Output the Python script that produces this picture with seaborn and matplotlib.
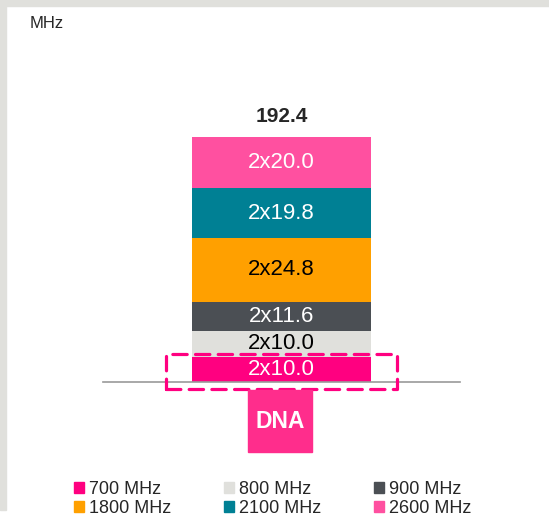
import matplotlib
matplotlib.use("Agg")
import matplotlib.pyplot as plt
import matplotlib.patches as mpatches
import seaborn as sns
import pandas as pd

# spectrum holdings (MHz per direction, paired)
operator = 'DNA'
bands = ['700 MHz', '800 MHz', '900 MHz', '1800 MHz', '2100 MHz', '2600 MHz']
per_direction = [10.0, 10.0, 11.6, 24.8, 19.8, 20.0]
band_colors = ['#ff0080', '#e0e0dc', '#4b4f54', '#ffa000', '#008094', '#ff50a0']
label_colors = ['white', 'black', 'white', 'black', 'white', 'white']

df = pd.DataFrame({'band': bands, 'mhz': per_direction})
df['paired'] = df['mhz'] * 2
df['bottom'] = df['paired'].cumsum() - df['paired']
total = df['paired'].sum()

sns.set_style('white')
plt.rcParams['font.family'] = ['Liberation Sans', 'DejaVu Sans']

W, H = 549, 519
fig = plt.figure(figsize=(W / 100, H / 100), dpi=100)

# light grey frame on top and left
fig.patches.append(mpatches.Rectangle((0, 1 - 6 / H), 1, 6 / H, transform=fig.transFigure,
                                      color='#e0e0dc', zorder=0))
fig.patches.append(mpatches.Rectangle((0, 9 / H), 6 / W, 1 - 9 / H, transform=fig.transFigure,
                                      color='#e0e0dc', zorder=0))

ax = fig.add_axes([103 / W, (H - 382) / H, 357 / W, 287 / H])
ax.set_facecolor('none')

for i, row in df.iterrows():
    sns.barplot(x=[operator], y=[row['paired']], bottom=row['bottom'], color=band_colors[i],
                saturation=1, width=0.504, errorbar=None, ax=ax, linewidth=0)
    ax.text(0, row['bottom'] + row['paired'] / 2, '2x{:.1f}'.format(row['mhz']),
            ha='center', va='center', color=label_colors[i], fontsize=16)

ax.annotate('{:.1f}'.format(total), xy=(0, total), xytext=(0, 11), textcoords='offset points',
            ha='center', va='baseline', fontsize=15, fontweight='bold')

# dashed highlight around the 700 MHz band
ax.add_patch(mpatches.Rectangle((-0.323, -5.5), 0.646, df['paired'][0] + 7.5, fill=False,
                                edgecolor='#ff0080', linewidth=2.3, linestyle=(0, (4.5, 2.6)),
                                clip_on=False, zorder=5, joinstyle='round', capstyle='round'))

ax.set_xlim(-0.5, 0.5)
ax.set_ylim(0, 287 / (245 / total))
ax.set_xticks([])
ax.set_yticks([])
ax.set_xlabel('')
ax.set_ylabel('')
for s in ['top', 'left', 'right']:
    ax.spines[s].set_visible(False)
ax.spines['bottom'].set_color('#999999')
ax.spines['bottom'].set_linewidth(1.2)

fig.text(30 / W, 1 - 28 / H, 'MHz', fontsize=12, va='baseline', ha='left')

# operator logo under the bar
fig.patches.append(mpatches.Rectangle((248 / W, 1 - 452 / H), 64 / W, 62 / H,
                                      transform=fig.transFigure, color='#ff2d8c', zorder=1))
fig.text(280 / W, 1 - 421 / H, operator, color='white', fontsize=16.5, fontweight='bold',
         ha='center', va='center')

# legend filled row by row
handles = [mpatches.Patch(color=c) for c in band_colors]
order = [0, 3, 1, 4, 2, 5]
fig.legend([handles[i] for i in order], [bands[i] for i in order], ncol=3,
           loc='upper left', bbox_to_anchor=(74 / W, 1 - 481 / H), frameon=False,
           fontsize=13, handlelength=0.55, handleheight=0.55, handletextpad=0.3,
           columnspacing=2.9, labelspacing=0.12, borderpad=0, borderaxespad=0)

fig.savefig('out.png', dpi=100)
